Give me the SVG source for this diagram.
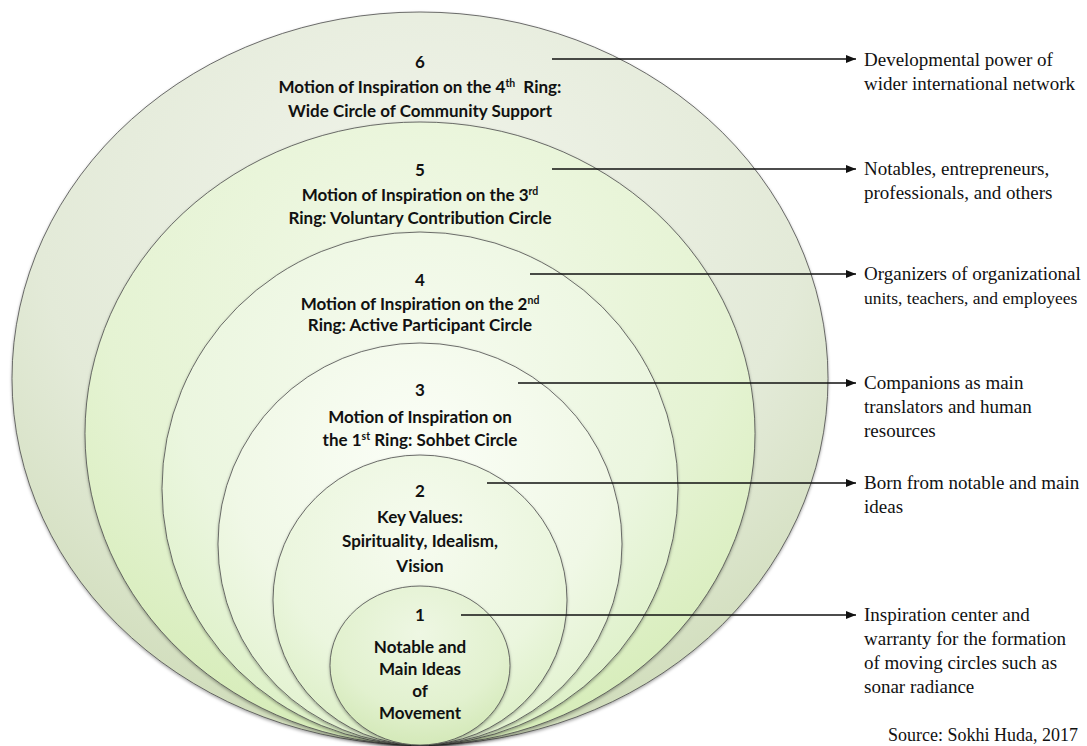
<svg xmlns="http://www.w3.org/2000/svg" width="1087" height="746" viewBox="0 0 1087 746">
<style>
.ring{stroke:#4a4a4a;stroke-width:0.8;filter:url(#sh)}
.b{font-family:Lato,"Liberation Sans",sans-serif;font-weight:bold;font-size:17px;fill:#111;text-anchor:middle}
.s{font-size:10.5px}
.r{font-family:"Liberation Serif","Times New Roman",serif;font-size:19px;fill:#111}
.ln{stroke:#111;stroke-width:1.3;fill:none;marker-end:url(#ah)}
</style>
<defs>
<filter id="sh" x="-5%" y="-5%" width="110%" height="112%">
<feDropShadow dx="0" dy="1.5" stdDeviation="1.6" flood-color="#000" flood-opacity="0.35"/>
</filter>
<marker id="ah" viewBox="0 0 10 8" refX="10" refY="4" markerWidth="10" markerHeight="8" markerUnits="userSpaceOnUse" orient="auto">
<path d="M0,0 L10,4 L0,8 Z" fill="#111"/>
</marker>
<radialGradient id="g6" cx="50%" cy="28%" r="78%"><stop offset="0" stop-color="#f1f4eb"/><stop offset="0.6" stop-color="#e3ead8"/><stop offset="1" stop-color="#ccdab4"/></radialGradient>
<radialGradient id="g5" cx="50%" cy="28%" r="78%"><stop offset="0" stop-color="#f2f9e8"/><stop offset="0.6" stop-color="#e5f3d3"/><stop offset="1" stop-color="#d3ebb3"/></radialGradient>
<radialGradient id="g4" cx="50%" cy="28%" r="78%"><stop offset="0" stop-color="#f6fbef"/><stop offset="0.6" stop-color="#ebf6df"/><stop offset="1" stop-color="#d9efc0"/></radialGradient>
<radialGradient id="g3" cx="50%" cy="28%" r="78%"><stop offset="0" stop-color="#fbfef7"/><stop offset="0.6" stop-color="#f0f8e6"/><stop offset="1" stop-color="#dff1ca"/></radialGradient>
<radialGradient id="g2" cx="50%" cy="30%" r="78%"><stop offset="0" stop-color="#f6fbef"/><stop offset="0.6" stop-color="#ebf6de"/><stop offset="1" stop-color="#d8edbf"/></radialGradient>
<radialGradient id="g1" cx="50%" cy="30%" r="78%"><stop offset="0" stop-color="#eef7e3"/><stop offset="0.6" stop-color="#e2f1cf"/><stop offset="1" stop-color="#cfe6b1"/></radialGradient>
</defs>
<rect width="1087" height="746" fill="#fff"/>

<g id="ring6">
<ellipse class="ring" cx="420" cy="378.5" rx="408" ry="366.5" fill="url(#g6)"/>
<text class="b" x="420" y="68">6</text>
<text class="b" x="420" y="93">Motion of Inspiration on the 4<tspan class="s" dy="-6">th</tspan><tspan dy="6" dx="4"> Ring:</tspan></text>
<text class="b" x="420" y="117">Wide Circle of Community Support</text>
</g>
<g id="ring5">
<ellipse class="ring" cx="420" cy="433.5" rx="335" ry="311.5" fill="url(#g5)"/>
<text class="b" x="420" y="176">5</text>
<text class="b" x="420" y="201">Motion of Inspiration on the 3<tspan class="s" dy="-6">rd</tspan></text>
<text class="b" x="420" y="224">Ring: Voluntary Contribution Circle</text>
</g>
<g id="ring4">
<ellipse class="ring" cx="420" cy="488.5" rx="258" ry="256.5" fill="url(#g4)"/>
<text class="b" x="420" y="286">4</text>
<text class="b" x="420" y="310">Motion of Inspiration on the 2<tspan class="s" dy="-6">nd</tspan></text>
<text class="b" x="420" y="331">Ring: Active Participant Circle</text>
</g>
<g id="ring3">
<ellipse class="ring" cx="420" cy="544" rx="202" ry="201" fill="url(#g3)"/>
<text class="b" x="420" y="396">3</text>
<text class="b" x="420" y="423">Motion of Inspiration on</text>
<text class="b" x="420" y="446">the 1<tspan class="s" dy="-6">st</tspan><tspan dy="6"> Ring: Sohbet Circle</tspan></text>
</g>
<g id="ring2">
<ellipse class="ring" cx="420" cy="600" rx="147" ry="145" fill="url(#g2)"/>
<text class="b" x="420" y="497">2</text>
<text class="b" x="420" y="523">Key Values:</text>
<text class="b" x="420" y="547">Spirituality, Idealism,</text>
<text class="b" x="420" y="572">Vision</text>
</g>
<g id="ring1">
<ellipse class="ring" cx="420" cy="665.5" rx="90" ry="79.5" fill="url(#g1)"/>
<text class="b" x="420" y="621">1</text>
<text class="b" x="420" y="653">Notable and</text>
<text class="b" x="420" y="675">Main Ideas</text>
<text class="b" x="420" y="697">of</text>
<text class="b" x="420" y="719">Movement</text>
</g>

<g id="connectors">
<line class="ln" x1="552" y1="59" x2="856" y2="59"/>
<line class="ln" x1="552" y1="169" x2="856" y2="169"/>
<line class="ln" x1="530" y1="274" x2="856" y2="274"/>
<line class="ln" x1="518" y1="383" x2="856" y2="383"/>
<line class="ln" x1="487" y1="483" x2="856" y2="483"/>
<line class="ln" x1="461" y1="615" x2="856" y2="615"/>
</g>

<g id="label6"><text class="r" x="864" y="66">Developmental power of</text><text class="r" x="864" y="90">wider international network</text></g>
<g id="label5"><text class="r" x="864" y="175">Notables, entrepreneurs,</text><text class="r" x="864" y="199">professionals, and others</text></g>
<g id="label4"><text class="r" x="864" y="280">Organizers of organizational</text><text class="r" x="864" y="304" style="font-size:17.5px">units, teachers, and employees</text></g>
<g id="label3"><text class="r" x="864" y="389">Companions as main</text><text class="r" x="864" y="413">translators and human</text><text class="r" x="864" y="437">resources</text></g>
<g id="label2"><text class="r" x="864" y="489">Born from notable and main</text><text class="r" x="864" y="513">ideas</text></g>
<g id="label1"><text class="r" x="864" y="621">Inspiration center and</text><text class="r" x="864" y="645">warranty for the formation</text><text class="r" x="864" y="669">of moving circles such as</text><text class="r" x="864" y="693">sonar radiance</text></g>
<text id="source" class="r" x="888" y="741" style="font-size:18px">Source: Sokhi Huda, 2017</text>
</svg>
